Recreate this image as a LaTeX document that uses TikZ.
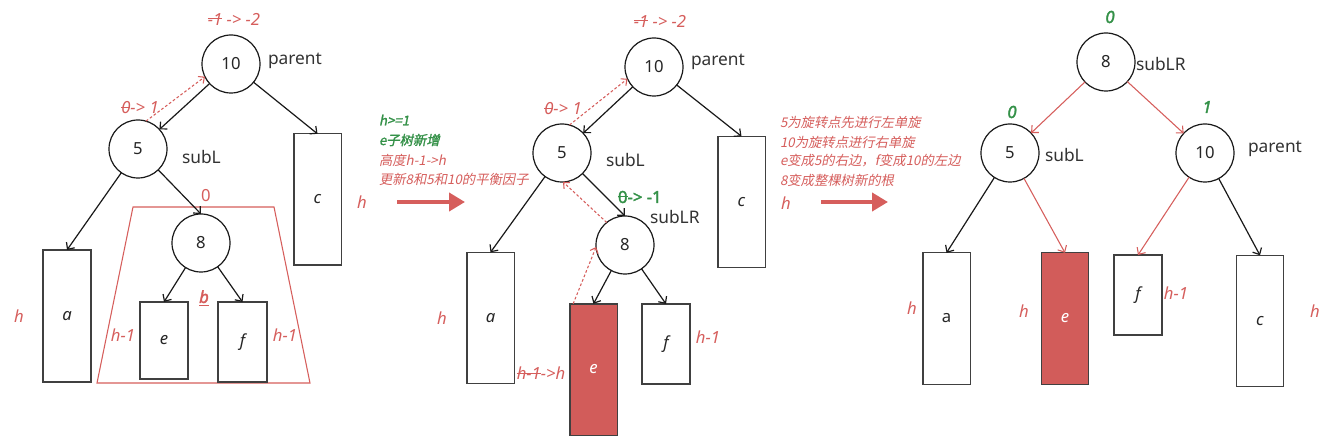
\documentclass[tikz,border=0pt]{standalone}
\usepackage{fontspec}
\setmainfont{Noto Sans}
\newfontfamily\sbf[FakeBold=2]{Noto Sans}
\newfontfamily\cjk[FakeSlant=0.2]{Noto Sans CJK SC}
\newfontfamily\cjkb[FakeSlant=0.2,FakeBold=1.5]{Noto Sans CJK SC}
\usetikzlibrary{arrows.meta}
\definecolor{myred}{RGB}{214,94,92}
\definecolor{mygreen}{RGB}{52,145,72}
\definecolor{boxfill}{RGB}{210,92,90}
\newsavebox\strkbox
\newcommand\strk[2][0.36em]{\sbox\strkbox{#2}\rlap{\raisebox{#1}{\rule{\wd\strkbox}{0.07em}}}\usebox\strkbox}
\begin{document}
\begin{tikzpicture}[x=0.75pt,y=-0.75pt,
  every node/.style={inner sep=0pt, outer sep=0pt},
  treenode/.style={circle, draw=black!90, line width=0.9pt, minimum size=43.5pt, font=\fontsize{12.5}{14}\selectfont, text=black!85},
  subtree/.style={rectangle, draw=black!75, line width=1pt, fill=white, font=\fontsize{12.5}{14}\selectfont\itshape, text=black!85},
  tallbox/.style={minimum width=35.5pt, minimum height=98.5pt},
  shortbox/.style={minimum width=36pt, minimum height=60pt},
  lbl/.style={anchor=west, font=\fontsize{13}{15}\selectfont, text=black!80},
  redlbl/.style={font=\fontsize{12.5}{14}\selectfont\itshape, text=myred},
  greenlbl/.style={font=\sbf\fontsize{12.5}{14}\selectfont\itshape, text=mygreen},
  note/.style={anchor=west, font=\cjk\fontsize{10}{12}\selectfont, text=myred},
  gnote/.style={anchor=west, font=\cjkb\fontsize{10}{12}\selectfont, text=mygreen},
  edge/.style={draw=black!90, line width=0.9pt, -{Straight Barb[length=4pt,width=7.5pt]}},
  redge/.style={draw=myred, line width=0.8pt, -{Straight Barb[length=4pt,width=7.5pt]}},
  dotarrow/.style={draw=myred, line width=0.8pt, dash pattern=on 2pt off 1.6pt, -{Straight Barb[length=3.5pt,width=6.5pt]}},
  bigarrow/.style={draw=myred, line width=3pt, -{Triangle[length=12pt,width=13.5pt]}}
]
\useasboundingbox[fill=white] (0,0) rectangle (1329,442);

% ---------- Panel 1 ----------
\draw[myred, line width=0.8pt] (133,207) -- (274,207) -- (310,383) -- (97,383) -- cycle;
\node[treenode] (p1n10) at (231,64) {10};
\node[treenode] (p1n5) at (138,149) {5};
\node[treenode] (p1n8) at (201,243) {8};
\node[subtree, minimum width=36pt, minimum height=99pt] (p1a) at (67,316) {a};
\node[subtree, tallbox] (p1c) at (317.5,199.5) {c};
\node[subtree, minimum width=36pt, minimum height=57.75pt] (p1e) at (164,340.5) {e};
\node[subtree, minimum width=36.75pt, minimum height=60pt] (p1f) at (242.5,342) {f};
\draw[edge] (p1n10) -- (p1n5);
\draw[edge] (p1n10) -- (p1c.north);
\draw[edge] (p1n5) -- (p1a.north);
\draw[edge] (p1n5) -- (p1n8.north);
\draw[edge] (p1n8) -- (p1e.north);
\draw[edge] (p1n8) -- (p1f.north);
\draw[dotarrow] (p1n5.74) -- (p1n10.206);
\node[redlbl] (p1bf10) at (234,19) {\strk{-1} -> -2};
\node[lbl] (p1parent) at (268,61) {parent};
\node[redlbl] (p1bf5) at (140,108) {\strk{0}-> 1};
\node[lbl] (p1subL) at (182,157) {subL};
\node[redlbl, font=\fontsize{12.5}{14}\selectfont] (p1bf8) at (206,196) {0};
\node[redlbl] (p1hc) at (362,202) {h};
\node[redlbl] (p1ha) at (19,316) {h};
\node[redlbl] (p1he) at (123,335) {h-1};
\node[redlbl] (p1hf) at (285,335) {h-1};
\node[redlbl, font=\sbf\fontsize{12.5}{14}\selectfont\itshape] (p1b) at (204,298) {\underline{b}};

% ---------- separator 1 ----------
\node[gnote] (t1a) at (379,120) {h>=1};
\node[gnote] (t1b) at (379,140) {e子树新增};
\node[note] (t1c) at (379,160) {高度h-1->h};
\node[note] (t1d) at (379,179) {更新8和5和10的平衡因子};
\coordinate (s1a) at (397,202);
\coordinate (s1b) at (465,202);
\draw[bigarrow] (s1a) -- (s1b);

% ---------- Panel 2 ----------
\node[treenode] (p2n10) at (654,67) {10};
\node[treenode] (p2n5) at (562,153) {5};
\node[treenode] (p2n8) at (625,245) {8};
\node[subtree, tallbox] (p2a) at (490.5,318) {a};
\node[subtree, tallbox] (p2c) at (741.5,202) {c};
\node[subtree, tallbox, fill=boxfill, text=white] (p2e) at (593.5,369.5) {e};
\node[subtree, shortbox] (p2f) at (666,344) {f};
\draw[edge] (p2n10) -- (p2n5);
\draw[edge] (p2n10) -- (p2c.north);
\draw[edge] (p2n5) -- (p2a.north);
\draw[edge] (p2n5) -- (p2n8.north);
\draw[edge] (p2n8) -- (p2e.north);
\draw[edge] (p2n8) -- (p2f.north);
\draw[dotarrow] (p2n5.75) -- (p2n10.204);
\draw[dotarrow] (p2n8.129) -- (p2n5.-88);
\draw[dotarrow] ([xshift=2.5pt]p2e.north west) -- (p2n8.184);
\node[redlbl] (p2bf10) at (660,21) {\strk{-1} -> -2};
\node[lbl] (p2parent) at (691,62) {parent};
\node[redlbl] (p2bf5) at (563,109) {\strk{0}-> 1};
\node[lbl] (p2subL) at (606,160) {subL};
\node[greenlbl, anchor=west, font=\sbf\fontsize{12.5}{14}\selectfont] (p2bf8) at (618,197) {\strk{0}-> -1};
\node[lbl] (p2subLR) at (650,217) {subLR};
\node[redlbl] (p2ha) at (442,318) {h};
\node[redlbl] (p2hc) at (786,203) {h};
\node[redlbl] (p2hf) at (708,337) {h-1};
\node[redlbl] (p2he) at (541,373) {\strk[0.3em]{h-1}->h};

% ---------- separator 2 ----------
\node[note] (t2a) at (780,122) {5为旋转点先进行左单旋};
\node[note] (t2b) at (780,142) {10为旋转点进行右单旋};
\node[note] (t2c) at (780,161) {e变成5的右边，f变成10的左边};
\node[note] (t2d) at (780,180) {8变成整棵树新的根};
\coordinate (s2a) at (821,202);
\coordinate (s2b) at (888,202);
\draw[bigarrow] (s2a) -- (s2b);

% ---------- Panel 3 ----------
\node[treenode] (p3n8) at (1106,62) {8};
\node[treenode] (p3n5) at (1010,153) {5};
\node[treenode] (p3n10) at (1205,153) {10};
\node[subtree, tallbox, font=\fontsize{12.5}{14}\selectfont] (p3a) at (946.5,318.5) {a};
\node[subtree, tallbox, fill=boxfill, text=white] (p3e) at (1065,318.5) {e};
\node[subtree, shortbox] (p3f) at (1138,295) {f};
\node[subtree, tallbox] (p3c) at (1260,321) {c};
\draw[redge] (p3n8) -- (p3n5);
\draw[redge] (p3n8) -- (p3n10);
\draw[edge] (p3n5) -- (p3a.north);
\draw[redge] (p3n5) -- (p3e.north);
\draw[redge] (p3n10) -- (p3f.north);
\draw[edge] (p3n10) -- (p3c.north);
\node[greenlbl] (p3bf8) at (1110,17) {0};
\node[greenlbl] (p3bf5) at (1012,112) {0};
\node[greenlbl] (p3bf10) at (1207,107) {1};
\node[lbl] (p3subLR) at (1136,64) {subLR};
\node[lbl] (p3subL) at (1045,155) {subL};
\node[lbl] (p3parent) at (1248,149) {parent};
\node[redlbl] (p3ha) at (912,308) {h};
\node[redlbl] (p3he) at (1024,311) {h};
\node[redlbl] (p3hf) at (1176,293) {h-1};
\node[redlbl] (p3hc) at (1315,311) {h};
\end{tikzpicture}
\end{document}
